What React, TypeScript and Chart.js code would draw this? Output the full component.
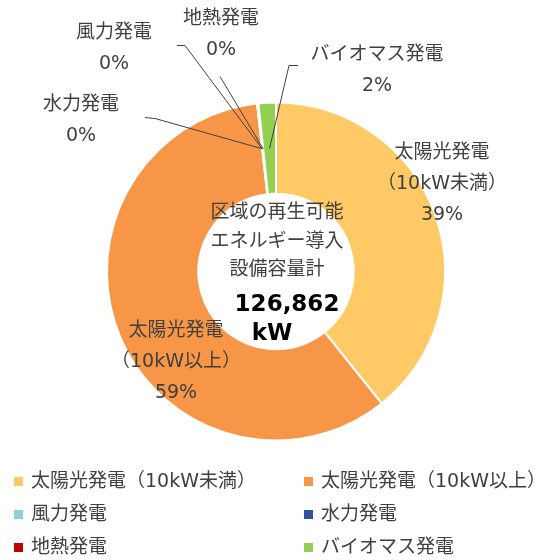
import { useEffect, useRef } from "react";
import { Chart, registerables } from "chart.js";

Chart.register(...registerables);

// ---- data ----
const categories = [
  "太陽光発電（10kW未満）",
  "太陽光発電（10kW以上）",
  "風力発電",
  "水力発電",
  "地熱発電",
  "バイオマス発電",
];
const capacityKW = [49800, 74800, 10, 150, 2, 2100];
const sliceColors = ["#FFCA66", "#F79646", "#92CDDC", "#2F5597", "#C00000", "#92D050"];
const centerLines = ["区域の再生可能", "エネルギー導入", "設備容量計"];
const totalUnit = "kW";

// ---- layout of annotations (relative to doughnut centre) ----
const labelLayout: { dx: number; dy: number; leader?: number[][] }[] = [
  { dx: 166, dy: -87 },
  { dx: -100, dy: 91 },
  { dx: -162, dy: -223, leader: [[-99, -226], [-91, -226]] },
  { dx: -195, dy: -151, leader: [[-131, -154], [-121, -153]] },
  { dx: -55, dy: -237, leader: [[-56, -195]] },
  { dx: 101, dy: -201, leader: [[22, -206], [13, -206]] },
];

const TEXT_COLOR = "#404040";
const FONT_FAMILY = '"DejaVu Sans", "Noto Sans CJK JP", sans-serif';
const LABEL_FONT = `19px ${FONT_FAMILY}`;

const total = capacityKW.reduce((a, b) => a + b, 0);
const percentLabels = capacityKW.map((v) => `${Math.round((v / total) * 100)}%`);
const totalLabel = total.toLocaleString("en-US");

function splitName(name: string): string[] {
  const i = name.indexOf("（");
  return i > 0 ? [name.slice(0, i), name.slice(i)] : [name];
}

const annotationPlugin = {
  id: "annotations",
  afterDraw(chart: any) {
    const ctx: CanvasRenderingContext2D = chart.ctx;
    const meta = chart.getDatasetMeta(0);
    const first = meta.data[0];
    const cx = first.x;
    const cy = first.y;
    ctx.save();

    // slice labels + leaders
    meta.data.forEach((arc: any, i: number) => {
      const p = arc.getProps(["x", "y", "startAngle", "endAngle", "innerRadius", "outerRadius"], true);
      const mid = (p.startAngle + p.endAngle) / 2;
      const rMid = (p.innerRadius + p.outerRadius) / 2;
      const ax = p.x + Math.cos(mid) * rMid;
      const ay = p.y + Math.sin(mid) * rMid;
      const lay = labelLayout[i];
      if (lay.leader) {
        ctx.beginPath();
        ctx.strokeStyle = TEXT_COLOR;
        ctx.lineWidth = 1;
        lay.leader.forEach((pt, k) => {
          const px = cx + pt[0];
          const py = cy + pt[1];
          if (k === 0) ctx.moveTo(px, py);
          else ctx.lineTo(px, py);
        });
        ctx.lineTo(ax, ay);
        ctx.stroke();
      }
      const lines = [...splitName(categories[i]), percentLabels[i]];
      const lh = 31;
      const lx = cx + lay.dx;
      const ly0 = cy + lay.dy - ((lines.length - 1) * lh) / 2;
      ctx.font = LABEL_FONT;
      ctx.fillStyle = TEXT_COLOR;
      ctx.textAlign = "center";
      ctx.textBaseline = "middle";
      lines.forEach((t, k) => ctx.fillText(t, lx, ly0 + k * lh));
    });

    // centre text
    ctx.font = LABEL_FONT;
    ctx.fillStyle = TEXT_COLOR;
    ctx.textAlign = "center";
    ctx.textBaseline = "middle";
    const cOff = [-58, -29, -1];
    centerLines.forEach((t, k) => ctx.fillText(t, cx + 1, cy + cOff[k]));
    ctx.fillStyle = "#000000";
    ctx.font = `bold 23px ${FONT_FAMILY}`;
    ctx.fillText(totalLabel, cx + 11, cy + 34);
    ctx.fillText(totalUnit, cx - 4, cy + 63);

    // legend (2 columns x 3 rows)
    const colX = [31, 321];
    const rowY = [482, 515, 548];
    ctx.font = LABEL_FONT;
    ctx.textAlign = "left";
    categories.forEach((name, i) => {
      const x = colX[i % 2];
      const y = rowY[Math.floor(i / 2)];
      ctx.fillStyle = sliceColors[i];
      ctx.fillRect(x - 17, y - 5, 9, 9);
      ctx.fillStyle = TEXT_COLOR;
      ctx.fillText(name, x, y);
    });
    ctx.restore();
  },
};

export default function App() {
  const ref = useRef<HTMLCanvasElement | null>(null);
  useEffect(() => {
    if (!ref.current) return;
    const chart = new Chart(ref.current, {
      type: "doughnut",
      data: {
        labels: categories,
        datasets: [
          {
            data: capacityKW,
            backgroundColor: sliceColors,
            borderColor: "#FFFFFF",
            borderWidth: 2,
          },
        ],
      },
      options: {
        responsive: false,
        animation: false,
        cutout: "46%",
        layout: { padding: { left: 106, right: 98, top: 101, bottom: 118 } },
        plugins: {
          legend: { display: false },
          tooltip: { enabled: false },
        },
      },
      plugins: [annotationPlugin],
    });
    return () => chart.destroy();
  }, []);
  return (
    <div style={{ position: "fixed", left: 0, top: 0, width: 544, height: 560, background: "#fff" }}>
      <canvas ref={ref} width={544} height={560} style={{ display: "block" }} />
    </div>
  );
}
